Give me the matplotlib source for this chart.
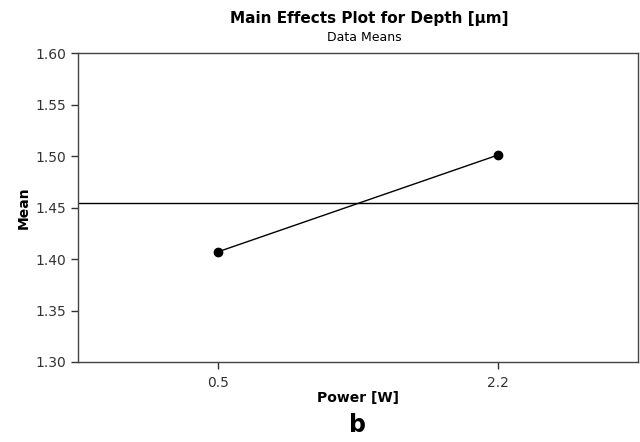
import matplotlib
matplotlib.use("Agg")
import matplotlib.pyplot as plt

# DATA
levels = ["0.5", "2.2"]
means = [1.407, 1.501]
grand_mean = 1.454
yticks = [1.30, 1.35, 1.40, 1.45, 1.50, 1.55, 1.60]

plt.rcParams["font.family"] = ["DejaVu Sans"]

fig = plt.figure(figsize=(6.4, 4.42), dpi=100)
ax = fig.add_axes([0.122, 0.181, 0.875, 0.699])

x = list(range(1, len(levels) + 1))
ax.axhline(grand_mean, color="black", linewidth=1)
ax.plot(x, means, color="black", linewidth=1, marker="o", markersize=6)

ax.set_xlim(0.5, 2.5)
ax.set_ylim(1.30, 1.60)
ax.set_xticks(x)
ax.set_xticklabels(levels)
ax.set_yticks(yticks)
ax.set_yticklabels([f"{v:.2f}" for v in yticks])
ax.tick_params(direction="out", length=5, width=1, labelsize=10, colors="#333333")
ax.tick_params(axis="x", pad=5)
for s in ax.spines.values():
    s.set_color("#444444")
    s.set_linewidth(1)

ax.set_xlabel("Power [W]", fontsize=10, fontweight="bold", labelpad=1)
ax.set_ylabel("Mean", fontsize=10, fontweight="bold", labelpad=3)

# TITLES
fig.text(0.577, 0.958, "Main Effects Plot for Depth [μm]", ha="center", va="center",
         fontsize=11, fontweight="bold")
fig.text(0.569, 0.916, "Data Means", ha="center", va="center", fontsize=9)
fig.text(0.559, 0.038, "b", ha="center", va="center", fontsize=17, fontweight="bold")

fig.savefig("out.png", dpi=100)
